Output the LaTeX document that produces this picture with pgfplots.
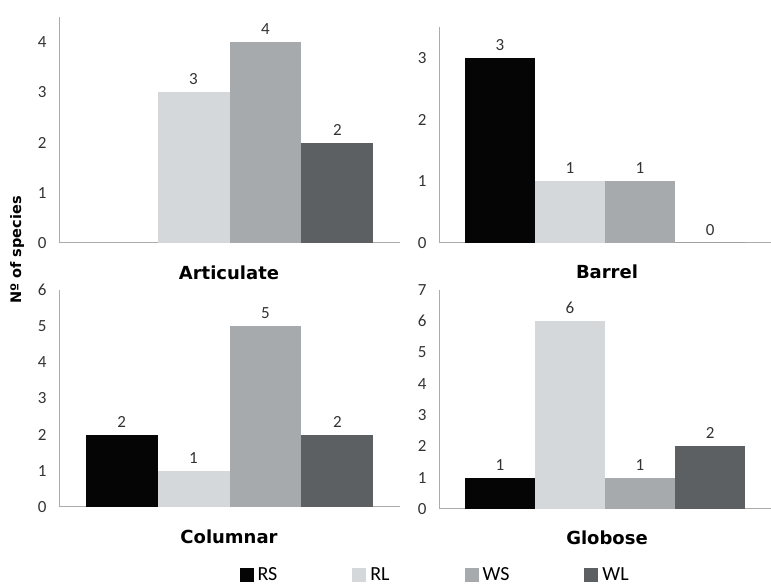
\documentclass[border=0pt]{standalone}
\usepackage{pgfplots}
\pgfplotsset{compat=1.18}
\usepackage{fontspec}
\setmainfont{Carlito}
\newfontfamily\headfont{DejaVu Sans}

\definecolor{cRS}{HTML}{050505}
\definecolor{cRL}{HTML}{D5D8DA}
\definecolor{cWS}{HTML}{A6AAAD}
\definecolor{cWL}{HTML}{5C6063}
\definecolor{axgray}{HTML}{ABABAB}
\definecolor{lblgray}{HTML}{333333}

\pgfplotsset{
  panel/.style={
    scale only axis,
    anchor=south west,
    axis lines*=left,
    axis line style={draw=axgray, line width=1pt},
    ybar, bar width=1, bar shift=0pt,
    xmin=-2.37, xmax=2.37,
    ymin=0,
    xtick=\empty,
    ytick distance=1,
    major tick length=0pt,
    /pgf/number format/assume math mode=true,
    yticklabel style={font=\fontsize{17}{17}\selectfont, color=lblgray, xshift=-9pt},
    nodes near coords,
    every node near coord/.append style={font=\fontsize{17}{17}\selectfont, color=lblgray, yshift=4pt},
    clip=false,
  },
  rs/.style={fill=cRS, draw=none},
  rl/.style={fill=cRL, draw=none},
  ws/.style={fill=cWS, draw=none},
  wl/.style={fill=cWL, draw=none},
}

\begin{document}
\begin{tikzpicture}
\path[use as bounding box] (0,0) rectangle (771pt,586pt);

% Articulate
\begin{axis}[panel, at={(59pt,343pt)}, width=341pt, height=226pt, ymax=4.5]
\addplot[rl] coordinates {(-0.5,3)};
\addplot[ws] coordinates {(0.5,4)};
\addplot[wl] coordinates {(1.5,2)};
\end{axis}

% Barrel
\begin{axis}[panel, at={(439pt,343pt)}, width=332pt, height=216pt, ymax=3.5]
\addplot[rs] coordinates {(-1.5,3)};
\addplot[rl] coordinates {(-0.5,1)};
\addplot[ws] coordinates {(0.5,1)};
\addplot[wl] coordinates {(1.5,0)};
\end{axis}

% Columnar
\begin{axis}[panel, at={(59pt,79pt)}, width=341pt, height=217pt, ymax=6,
  legend columns=4,
  legend style={at={(axis description cs:0.52,-0.313)}, anchor=west,
    draw=none, fill=none, font=\fontsize{20}{20}\selectfont,
    nodes={inner sep=1pt},
    /tikz/every even column/.append style={column sep=74pt}},
  legend image code/.code={\fill[#1] (0pt,-7pt) rectangle (14pt,7pt); \path (17pt,0pt);}]
\addplot[rs] coordinates {(-1.5,2)};
\addplot[rl] coordinates {(-0.5,1)};
\addplot[ws] coordinates {(0.5,5)};
\addplot[wl] coordinates {(1.5,2)};
\legend{RS,RL,WS,WL}
\end{axis}

% Globose
\begin{axis}[panel, at={(439pt,77pt)}, width=332pt, height=219pt, ymax=7]
\addplot[rs] coordinates {(-1.5,1)};
\addplot[rl] coordinates {(-0.5,6)};
\addplot[ws] coordinates {(0.5,1)};
\addplot[wl] coordinates {(1.5,2)};
\end{axis}

\node[font=\headfont\bfseries\fontsize{18}{18}\selectfont] at (229pt,313pt) {Articulate};
\node[font=\headfont\bfseries\fontsize{18}{18}\selectfont] at (607pt,314pt) {Barrel};
\node[font=\headfont\bfseries\fontsize{18}{18}\selectfont] at (229pt,49pt) {Columnar};
\node[font=\headfont\bfseries\fontsize{18}{18}\selectfont] at (607pt,48pt) {Globose};
\node[font=\headfont\bfseries\fontsize{14.5}{14.5}\selectfont, rotate=90] at (17pt,336pt) {Nº of species};
\end{tikzpicture}
\end{document}
